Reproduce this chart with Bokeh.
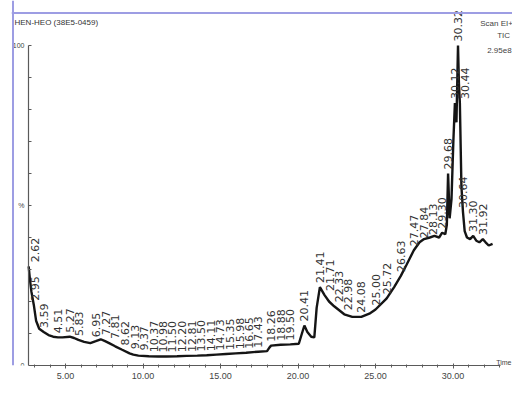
import numpy as np
from bokeh.plotting import figure
from bokeh.models import ColumnDataSource, Label, FixedTicker, Span
from bokeh.core.properties import value
from bokeh.embed import file_html
from bokeh.resources import INLINE

# ---- data (retention time in min, relative abundance in %) ----
times = [2.62, 2.70, 2.80, 2.95, 3.10, 3.30, 3.59, 3.90, 4.20, 4.51, 4.80, 5.27, 5.55,
         5.83, 6.20, 6.60, 6.95, 7.27, 7.55, 7.81, 8.20, 8.62, 9.13, 9.37, 9.70, 10.37,
         10.98, 11.50, 12.20, 12.81, 13.50, 14.11, 14.73, 15.35, 15.98, 16.65, 17.43,
         18.00, 18.15, 18.26, 18.88, 19.50, 20.05, 20.25, 20.41, 20.60, 20.85, 21.05,
         21.20, 21.41, 21.71, 22.00, 22.33, 22.98, 23.50, 24.08, 24.60, 25.00, 25.72,
         26.20, 26.63, 27.00, 27.47, 27.84, 28.13, 28.50, 28.80, 29.10, 29.30, 29.50,
         29.60, 29.68, 29.78, 29.90, 30.02, 30.12, 30.22, 30.32, 30.38, 30.44, 30.54,
         30.64, 30.75, 30.90, 31.10, 31.30, 31.50, 31.70, 31.92, 32.10, 32.30, 32.55]
abundance = [31, 27, 23, 19, 14, 11.5, 10.5, 9.5, 9, 8.8, 8.8, 9, 8.6,
             8, 7.4, 7, 7.6, 8.2, 7.6, 7, 6, 5, 3.8, 3.4, 3.1, 2.9,
             2.8, 2.8, 2.9, 3.0, 3.1, 3.2, 3.4, 3.6, 3.8, 4.0, 4.3,
             4.5, 5.6, 6.2, 6.5, 6.6, 6.8, 10, 12.5, 10.5, 9, 8.8,
             18, 24.5, 22, 20, 18.5, 16, 15.2, 15.2, 16.2, 17.5, 21,
             24.5, 28, 31.5, 36, 38.5, 39.5, 40, 40.5, 40, 41.5, 41,
             44, 60, 46, 52, 70, 82, 76, 100, 88, 82, 56,
             48, 42, 40, 39.5, 40.5, 39, 38.5, 39.5, 38.5, 37.5, 38]

peak_labels = ["2.62", "2.95", "3.59", "4.51", "5.27", "5.83", "6.95", "7.27", "7.81",
               "8.62", "9.13", "9.37", "10.37", "10.98", "11.50", "12.20", "12.81",
               "13.50", "14.11", "14.73", "15.35", "15.98", "16.65", "17.43", "18.26",
               "18.88", "19.50", "20.41", "21.41", "21.71", "22.33", "22.98", "24.08",
               "25.00", "25.72", "26.63", "27.47", "27.84", "28.13", "29.30", "29.68",
               "30.12", "30.32", "30.44", "30.64", "31.30", "31.92"]

x_ticks = [5, 10, 15, 20, 25, 30]
x_tick_labels = ["5.00", "10.00", "15.00", "20.00", "25.00", "30.00"]
y_ticks = [0, 10, 20, 30, 40, 50, 60, 70, 80, 90, 100]
y_tick_labels = {0: "0", 50: "%", 100: "100"}

title_text = "HEN-HEO (38E5-0459)"
corner_texts = ["Scan EI+", "TIC", "2.95e8"]

# ---- geometry ----
T_START, T_END = 2.61, 33.06      # extent of the time axis
PXM, PXP = 15.5, 3.2              # px per minute, px per percent
LEFT = 11                          # frame starts at page x 11; y axis at page x 28
FW, FH = 512 - LEFT, 365
XS = T_START - (28 - LEFT) / PXM
XE = XS + FW / PXM
YE = FH / PXP

FONT = "DejaVu Sans"
TFONT = "Liberation Sans"
LAB_SIZE = 11
BLUE = "#9d9de3"

p = figure(frame_width=FW, frame_height=FH, x_range=(XS, XE), y_range=(0, YE),
           output_backend="svg", toolbar_location=None,
           min_border_left=LEFT, min_border_right=0, min_border_top=0, min_border_bottom=29,
           background_fill_color="white", border_fill_color="white")
p.outline_line_color = None
p.grid.visible = False

# window edges (left and top)
p.add_layout(Span(location=XS + 1.5 / PXM, dimension="height", line_color=BLUE, line_width=2))
p.add_layout(Span(location=YE - 12.5 / PXP, dimension="width", line_color=BLUE, line_width=2))

src = ColumnDataSource(dict(t=times, a=abundance))
p.line("t", "a", source=src, line_color="#151515", line_width=2.4)

# ---- peak labels with simple collision avoidance (screen space) ----
GAP = 4
lt, la, xo = [], [], []
placed = []
for lab in peak_labels:
    t = float(lab)
    val = float(np.interp(t, times, abundance))
    sx0 = (t - T_START) * PXM
    sx = max(sx0, 6)
    length = LAB_SIZE * (0.64 * sum(c.isdigit() for c in lab) + 0.32)
    y0 = val * PXP + GAP
    y1 = y0 + length
    while any(abs(sx - px) < 9 and y0 < py1 and py0 < y1 for px, py0, py1 in placed):
        sx += 1
    placed.append((sx, y0, y1))
    lt.append(t)
    la.append(val)
    xo.append(sx - sx0)

lsrc = ColumnDataSource(dict(t=lt, a=la, txt=peak_labels, xo=xo))
p.text("t", "a", text="txt", source=lsrc, angle=np.pi / 2, x_offset="xo", y_offset=-GAP,
       text_align="left", text_baseline="middle", text_font=value(FONT),
       text_font_size=f"{LAB_SIZE}px", text_color="#333333")

# ---- axes ----
xa = p.xaxis[0]
xa.ticker = FixedTicker(ticks=x_ticks, minor_ticks=list(np.arange(3, 34, 1.0)))
xa.major_label_overrides = dict(zip(x_ticks, x_tick_labels))
xa.bounds = (T_START, T_END)
ya = p.yaxis[0]
ya.fixed_location = T_START
ya.ticker = FixedTicker(ticks=y_ticks)
ya.major_label_overrides = {k: y_tick_labels.get(k, "") for k in y_ticks}
ya.bounds = (0, 100)
for ax in (xa, ya):
    ax.axis_line_color = "#5a5a5a"
    ax.axis_line_width = 1.2
    ax.major_tick_line_color = "#5a5a5a"
    ax.minor_tick_line_color = "#5a5a5a"
    ax.major_tick_in = 2
    ax.major_tick_out = 3
    ax.minor_tick_in = 1
    ax.minor_tick_out = 2
    ax.major_label_text_font = TFONT
    ax.major_label_text_font_size = "9px"
    ax.major_label_text_color = "#444444"
ya.major_tick_in = 3
ya.major_tick_out = 0
ya.major_label_standoff = 4
ya.major_label_text_font_size = "7px"
ya.minor_tick_line_color = None
xa.major_label_standoff = 4

# ---- texts ----
p.add_layout(Label(x=XS + 3 / PXM, y=YE - 22 / PXP, text=title_text, text_font=TFONT,
                   text_font_size="8px", text_color="#333333", text_baseline="middle"))
p.add_layout(Label(x=31.75, y=YE - 23 / PXP, text=corner_texts[0], text_font=TFONT,
                   text_font_size="8px", text_color="#444444", text_baseline="middle"))
p.add_layout(Label(x=32.85, y=YE - 35 / PXP, text=corner_texts[1], text_font=TFONT,
                   text_font_size="8px", text_color="#444444", text_baseline="middle"))
p.add_layout(Label(x=32.2, y=YE - 50 / PXP, text=corner_texts[2], text_font=TFONT,
                   text_font_size="8px", text_color="#444444", text_baseline="middle"))
p.add_layout(Label(x=XE, y=3 / PXP, x_offset=-1, text="Time", text_font=TFONT,
                   text_align="right", text_font_size="7px", text_color="#444444",
                   text_baseline="middle"))

open("out.html", "w").write(file_html(p, INLINE))
